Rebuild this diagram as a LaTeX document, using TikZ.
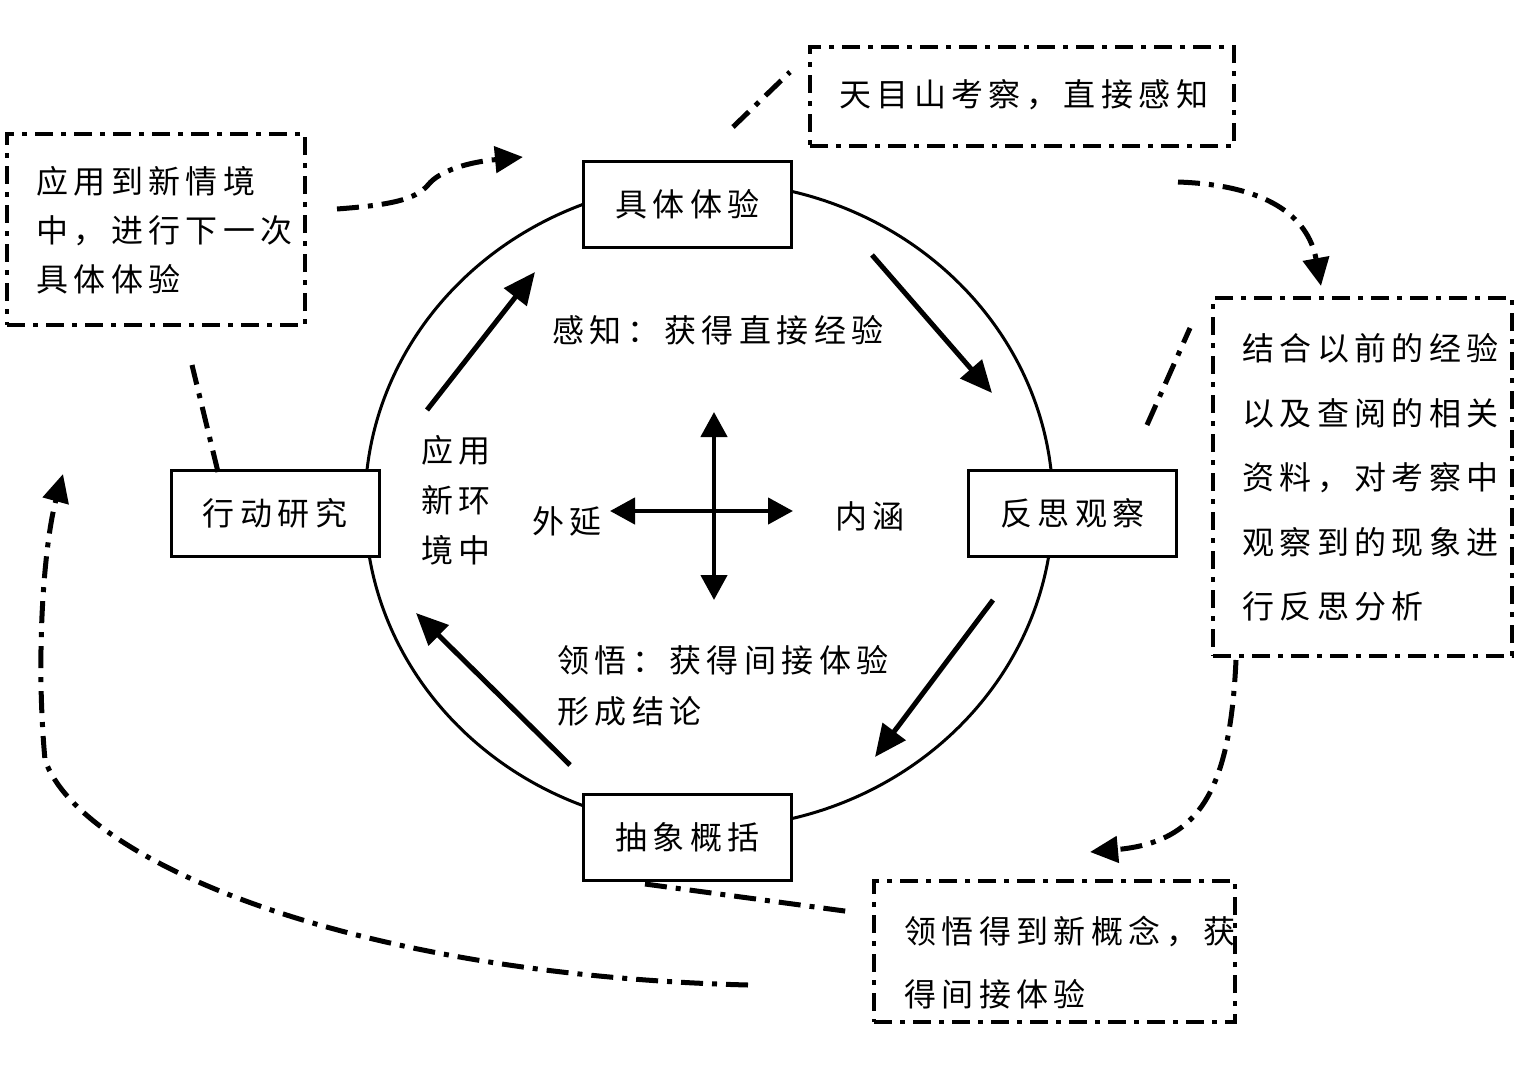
\documentclass[tikz,border=0pt]{standalone}
\usepackage{fontspec}
\usetikzlibrary{arrows.meta}
\newfontfamily\cjk[LetterSpace=17]{Noto Sans CJK SC}
\tikzset{
  txt/.style={inner sep=0pt, anchor=west, font=\cjk\fontsize{32}{32}\selectfont},
  txtblk/.style={inner sep=0pt, anchor=north west, align=left, font=\cjk\fontsize{32}{#1}\selectfont},
  stage/.style={draw, line width=3pt, fill=white, minimum width=208pt, minimum height=86pt, inner sep=0pt, font=\cjk\fontsize{32}{32}\selectfont},
  dd/.style={line width=5pt, dash pattern=on 22pt off 9pt on 5pt off 9pt},
  ddbox/.style={draw, line width=4.5pt, dash pattern=on 18pt off 8pt on 5pt off 8pt, inner sep=0pt},
  tipd/.style={-{Triangle[length=28pt,width=26pt]}},
  bigarrow/.style={line width=5pt, -{Triangle[length=32pt,width=28pt]}},
  crossarrow/.style={line width=4.5pt, {Triangle[length=25pt,width=26pt]}-{Triangle[length=25pt,width=26pt]}}
}
\begin{document}
\begin{tikzpicture}[x=1pt,y=-1pt]
\useasboundingbox (0,0) rectangle (1516,1076);
\fill[white] (0,0) rectangle (1516,1076);
% cycle
\draw[line width=3pt] (709,505) ellipse [x radius=344pt, y radius=323pt];
\node[stage] (ce) at (687.5,204.5) {具体体验};
\node[stage] (ro) at (1072.5,513.5) {反思观察};
\node[stage] (ac) at (687.5,837) {抽象概括};
\node[stage] (ae) at (275,513.5) {行动研究};
% main arrows
\coordinate (a1s) at (427,410); \coordinate (a1e) at (535,272);
\coordinate (a2s) at (872,255); \coordinate (a2e) at (992,393);
\coordinate (a3s) at (993,600); \coordinate (a3e) at (875,757);
\coordinate (a4s) at (570,765); \coordinate (a4e) at (416,613);
\draw[bigarrow] (a1s) -- (a1e);
\draw[bigarrow] (a2s) -- (a2e);
\draw[bigarrow] (a3s) -- (a3e);
\draw[bigarrow] (a4s) -- (a4e);
% cross
\coordinate (cxl) at (610,511); \coordinate (cxr) at (793,511);
\coordinate (cyt) at (714,412); \coordinate (cyb) at (714,600);
\draw[crossarrow] (cxl) -- (cxr);
\draw[crossarrow] (cyt) -- (cyb);
% inner labels
\node[txt] (t1) at (552,330) {感知：获得直接经验};
\node[txtblk=50] (t2) at (421,435.5) {应用\\新环\\境中};
\node[txt] (t3) at (532,521) {外延};
\node[txt] (t4) at (835,516) {内涵};
\node[txtblk=51] (t5) at (557,645.5) {领悟：获得间接体验\\形成结论};
% note boxes
\node[ddbox, minimum width=298pt, minimum height=191pt] (b1) at (156,229.5) {};
\node[txtblk=49] (b1t) at (36,166.5) {应用到新情境\\中，进行下一次\\具体体验};
\node[ddbox, minimum width=424pt, minimum height=99pt] (b2) at (1022,96.5) {};
\node[txt] (b2t) at (839,95) {天目山考察，直接感知};
\node[ddbox, minimum width=299pt, minimum height=358pt] (b3) at (1362.5,477) {};
\node[txtblk=64.5] (b3t) at (1242,333.5) {结合以前的经验\\以及查阅的相关\\资料，对考察中\\观察到的现象进\\行反思分析};
\node[ddbox, minimum width=361pt, minimum height=141pt] (b4) at (1054.5,951.5) {};
\node[txtblk=63] (b4t) at (904,915.5) {领悟得到新概念，获\\得间接体验};
% dash-dot connectors
\coordinate (c1s) at (337,209); \coordinate (c1e) at (523,157);
\draw[dd, tipd] (c1s) .. controls (390,205) and (415,200) .. (428,185) .. controls (440,170) and (470,162) .. (c1e);
\coordinate (l1a) at (733,127); \coordinate (l1b) at (790,72);
\draw[dd] (l1a) -- (l1b);
\coordinate (c3s) at (1178,182); \coordinate (c3e) at (1321,286);
\draw[dd, tipd] (c3s) .. controls (1265,185) and (1308,215) .. (c3e);
\coordinate (l2a) at (1147,425); \coordinate (l2b) at (1190,328);
\draw[dd] (l2a) -- (l2b);
\coordinate (c5s) at (1236,660); \coordinate (c5e) at (1090,852);
\draw[dd, tipd] (c5s) .. controls (1230,790) and (1200,842) .. (c5e);
\coordinate (l3a) at (645,884); \coordinate (l3b) at (852,912);
\draw[dd] (l3a) -- (l3b);
\coordinate (l4a) at (218,472); \coordinate (l4b) at (192,365);
\draw[dd] (l4a) -- (l4b);
\coordinate (c8s) at (748,985); \coordinate (c8e) at (63,474);
\draw[dd, tipd] (c8s) .. controls (350,975) and (80,860) .. (45,760) .. controls (35,650) and (45,540) .. (c8e);
\end{tikzpicture}
\end{document}
